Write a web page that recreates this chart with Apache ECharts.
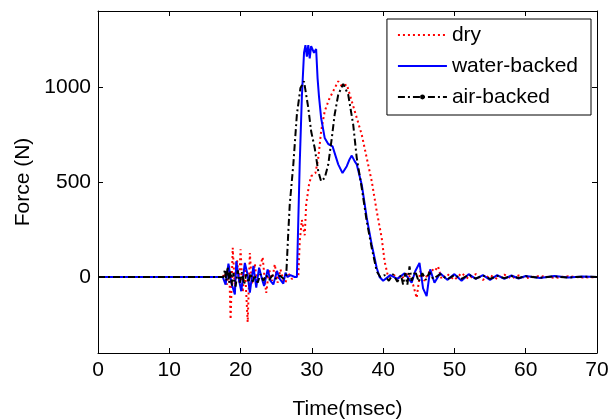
<!DOCTYPE html>
<html><head><meta charset="utf-8">
<script src="https://cdn.jsdelivr.net/npm/echarts@6/dist/echarts.min.js"></script>
<style>html,body{margin:0;padding:0;background:#fff}#c{width:611px;height:420px}</style>
</head><body><div id="c"></div>
<script>
const xTicks = [0, 10, 20, 30, 40, 50, 60, 70];
const yTicks = [0, 500, 1000];
const seriesNames = ['dry', 'water-backed', 'air-backed'];

// [time (msec), force (N)]
const dry = [[0,0],[17.5,0],[17.8,20],[18.1,-40],[18.4,60],[18.6,-223],[18.9,154],[19.2,-60],[19.5,90],[19.8,-30],[20.0,146],[20.3,-80],[20.6,60],[21.0,-238],[21.3,126],[21.6,-40],[22.0,70],[22.3,-30],[22.7,50],[23.1,104],[23.4,-20],[23.6,-84],[24.0,40],[24.4,-20],[24.8,67],[25.2,-30],[25.6,40],[26.0,-20],[26.3,-30],[26.7,20],[27.2,-10],[27.6,0],[28.1,0],[28.3,188],[28.6,300],[28.8,258],[29.0,220],[29.2,381],[29.6,486],[29.9,530],[30.5,547],[30.9,626],[31.3,767],[31.8,872],[32.4,934],[33.1,986],[33.7,1030],[34.2,1004],[34.9,1013],[35.6,925],[36.3,837],[37.0,749],[37.7,626],[38.4,504],[39.1,346],[39.8,205],[40.2,83],[40.7,0],[41.5,10],[42.5,-10],[43.5,20],[44.2,-40],[44.7,-110],[45.2,30],[45.8,-20],[46.3,20],[46.8,40],[47.2,30],[47.7,56],[48.2,-10],[49,15],[50,-15],[51,20],[52,-10],[53,15],[54,-15],[55,10],[56,-10],[57,12],[58,-8],[59,8],[60,-6],[62,6],[64,-5],[66,4],[68,-3],[70,0]];

const water = [[0,0],[17.5,0],[17.9,-40],[18.3,70],[18.7,-30],[19.2,-92],[19.4,83],[19.8,-20],[20.1,-75],[20.6,74],[21.0,10],[21.3,-82],[21.8,58],[22.2,-56],[22.6,49],[23.0,-10],[23.3,-47],[23.8,40],[24.2,-20],[24.6,-39],[25.1,32],[25.5,-10],[26.0,-35],[26.3,23],[26.6,0],[27.0,10],[27.6,0],[27.9,0],[28.1,300],[28.3,600],[28.6,950],[28.9,1180],[29.1,1220],[29.3,1160],[29.5,1220],[29.7,1150],[29.9,1215],[30.1,1220],[30.3,1180],[30.6,1200],[30.8,1047],[31.0,950],[31.3,837],[31.8,732],[32.3,700],[32.9,688],[33.3,640],[33.7,593],[34.3,547],[34.9,583],[35.3,620],[35.6,639],[36.0,610],[36.3,592],[37.0,486],[37.7,311],[38.4,170],[39.1,47],[39.5,0],[40.0,-20],[41,10],[42,-10],[43,20],[44,-30],[44.5,30],[45.1,74],[45.6,-60],[46.1,-101],[46.6,40],[47.2,-30],[48,20],[49,-15],[50,15],[51,-20],[52,15],[53,-10],[54,10],[55,-15],[56,10],[57,-10],[58,8],[59,-8],[60,5],[62,-5],[64,5],[66,-3],[68,3],[70,0]];

const air = [[0,0],[17.6,0],[17.8,40],[18.0,-20],[18.2,55],[18.4,-30],[18.6,30],[18.8,-45],[19.0,20],[19.3,-50],[19.6,35],[19.9,-30],[20.2,25],[20.5,-40],[20.8,15],[21.1,-30],[21.4,20],[21.7,-25],[22.0,10],[22.4,-30],[22.8,15],[23.2,-20],[23.6,10],[24.0,-15],[24.5,10],[25.0,-10],[25.5,8],[26.0,-8],[26.4,5],[26.7,240],[26.9,382],[27.4,593],[27.9,856],[28.4,995],[28.9,1030],[29.5,890],[29.9,767],[30.4,679],[30.9,556],[31.3,504],[31.8,521],[32.3,592],[32.8,732],[33.2,855],[33.7,960],[34.4,1016],[35.1,960],[35.8,802],[36.3,626],[37.0,468],[37.7,293],[38.4,153],[39.1,30],[39.6,0],[40.2,10],[40.8,-20],[41.4,15],[42.0,-25],[42.5,10],[42.8,-40],[43.1,20],[43.4,-40],[43.7,56],[44.0,-20],[44.5,30],[45.0,-25],[45.5,20],[46.0,-15],[46.5,25],[47.0,-10],[48,15],[49,-12],[50,10],[51,-10],[52,12],[53,-8],[54,8],[55,-10],[56,6],[57,-6],[58,5],[59,-5],[60,4],[62,-4],[64,3],[66,-3],[68,2],[70,0]];

const FONT = '"Liberation Sans", Arial, Helvetica, sans-serif';
const black = '#000';
const plain = v => String(v);

function xAx(pos, labels) {
  return {
    type: 'value', position: pos, min: 0, max: 70, interval: 10,
    axisLine: { show: true, onZero: false, lineStyle: { color: black, width: 1 } },
    axisTick: { show: true, inside: true, length: 5, customValues: xTicks, lineStyle: { color: black, width: 1 } },
    axisLabel: { show: labels, customValues: xTicks, formatter: plain, color: black, fontSize: 21, fontFamily: FONT, margin: 7 },
    splitLine: { show: false },
    name: labels ? 'Time(msec)' : '', nameLocation: 'middle', nameGap: 46,
    nameTextStyle: { color: black, fontSize: 21, fontFamily: FONT }
  };
}
function yAx(pos, labels) {
  return {
    type: 'value', position: pos, min: -400, max: 1400,
    axisLine: { show: true, onZero: false, lineStyle: { color: black, width: 1 } },
    axisTick: { show: true, inside: true, length: 5, customValues: yTicks, lineStyle: { color: black, width: 1 } },
    axisLabel: { show: labels, customValues: yTicks, formatter: plain, color: black, fontSize: 21, fontFamily: FONT, margin: 7 },
    splitLine: { show: false },
    name: labels ? 'Force (N)' : '', nameLocation: 'middle', nameGap: 63,
    nameTextStyle: { color: black, fontSize: 21, fontFamily: FONT }
  };
}

const hidden = { color: 'rgba(0,0,0,0)', borderWidth: 0, opacity: 0 };
const chart = echarts.init(document.getElementById('c'), null, { renderer: 'canvas' });
chart.setOption({
  animation: false,
  backgroundColor: '#fff',
  grid: { left: 98, top: 11, width: 499, height: 342, containLabel: false, outerBoundsMode: 'none' },
  xAxis: [xAx('bottom', true), xAx('top', false)],
  yAxis: [yAx('left', true), yAx('right', false)],
  legend: {
    orient: 'vertical', right: 20, top: 19,
    padding: [5, 13, 7, 10], itemGap: 9,
    itemWidth: 49, itemHeight: 6,
    backgroundColor: '#fff', borderColor: black, borderWidth: 1,
    textStyle: { color: black, fontSize: 21, fontFamily: FONT, lineHeight: 22 },
    data: [
      { name: seriesNames[0], itemStyle: hidden },
      { name: seriesNames[1], itemStyle: hidden },
      { name: seriesNames[2], itemStyle: { color: black, borderWidth: 0 } }
    ]
  },
  series: [
    { name: seriesNames[0], type: 'line', data: dry, symbol: 'none', showSymbol: false,
      lineStyle: { color: '#ff0000', width: 2, type: [2, 3] }, itemStyle: { color: '#ff0000' }, z: 2 },
    { name: seriesNames[1], type: 'line', data: water, symbol: 'none', showSymbol: false,
      lineStyle: { color: '#0000ff', width: 2, type: 'solid' }, itemStyle: { color: '#0000ff' }, z: 3 },
    { name: seriesNames[2], type: 'line', data: air, symbol: 'circle', symbolSize: 5, showSymbol: false,
      lineStyle: { color: black, width: 2, type: [7, 3, 2, 3] }, itemStyle: { color: black }, z: 4 }
  ]
});
</script>
</body></html>
